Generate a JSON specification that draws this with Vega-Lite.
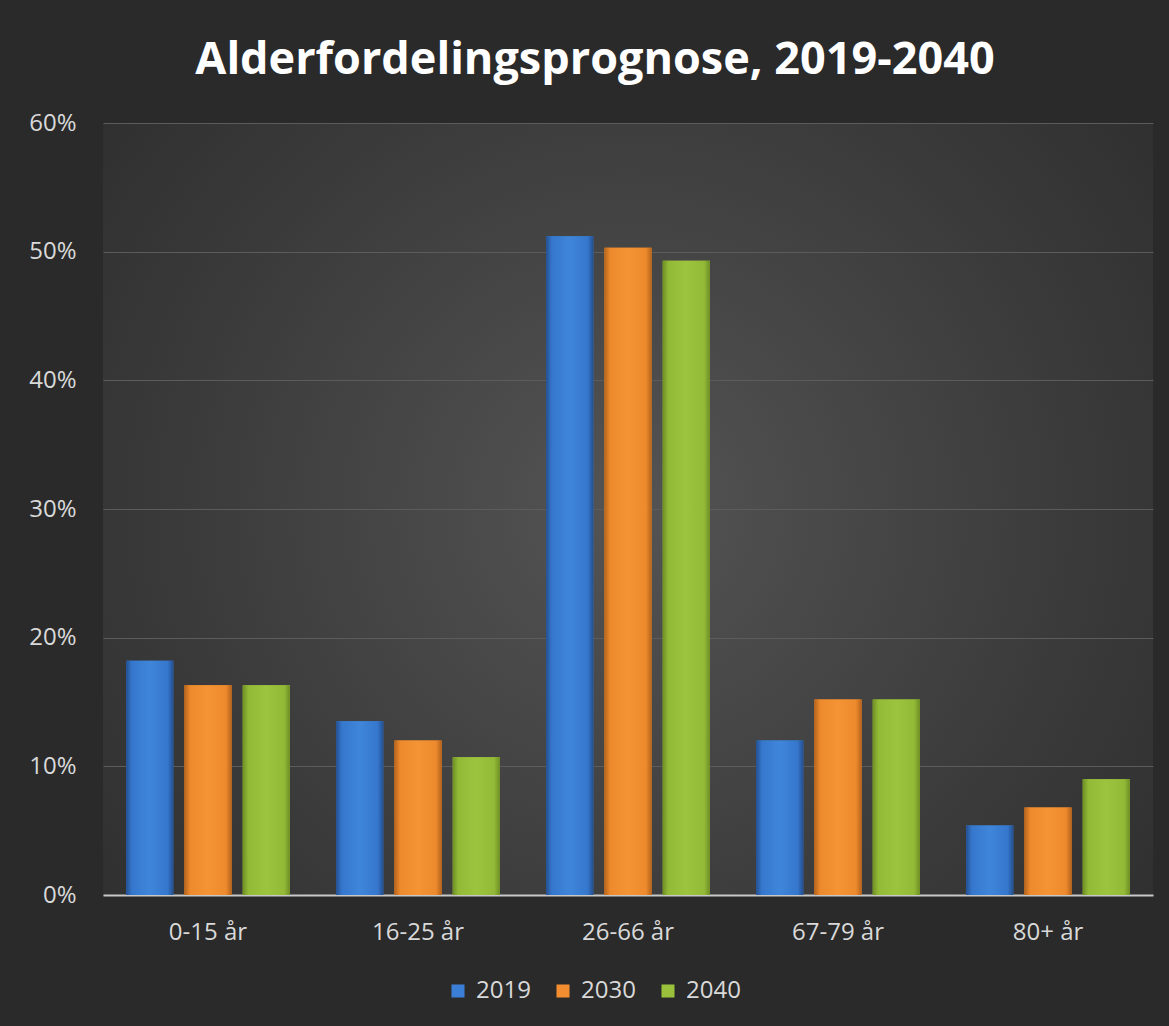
{
  "$schema": "https://vega.github.io/schema/vega-lite/v6.json",
  "width": 1050,
  "height": 772,
  "autosize": {"type": "none"},
  "padding": {"left": 103, "top": 123, "right": 16, "bottom": 131},
  "background": "#2a2a2a",
  "title": {
    "text": "Alderfordelingsprognose,  2019-2040",
    "anchor": "middle",
    "frame": "group",
    "dx": -33,
    "offset": 28,
    "fontSize": 45,
    "font": "Open Sans",
    "fontWeight": "bold",
    "color": "#ffffff"
  },
  "data": {
    "values": [
      {"age": "0-15 år", "year": "2019", "share": 0.182},
      {"age": "0-15 år", "year": "2030", "share": 0.163},
      {"age": "0-15 år", "year": "2040", "share": 0.163},
      {"age": "16-25 år", "year": "2019", "share": 0.135},
      {"age": "16-25 år", "year": "2030", "share": 0.120},
      {"age": "16-25 år", "year": "2040", "share": 0.107},
      {"age": "26-66 år", "year": "2019", "share": 0.512},
      {"age": "26-66 år", "year": "2030", "share": 0.503},
      {"age": "26-66 år", "year": "2040", "share": 0.493},
      {"age": "67-79 år", "year": "2019", "share": 0.120},
      {"age": "67-79 år", "year": "2030", "share": 0.152},
      {"age": "67-79 år", "year": "2040", "share": 0.152},
      {"age": "80+ år", "year": "2019", "share": 0.054},
      {"age": "80+ år", "year": "2030", "share": 0.068},
      {"age": "80+ år", "year": "2040", "share": 0.090}
    ]
  },
  "encoding": {
    "x": {
      "field": "age",
      "type": "nominal",
      "sort": null,
      "scale": {"paddingInner": 0.22, "paddingOuter": 0.11},
      "axis": {
        "title": null,
        "labelAngle": 0,
        "ticks": false,
        "domain": true,
        "domainColor": "#c8c8c8",
        "domainWidth": 2,
        "labelPadding": 25,
        "labelFontSize": 24,
        "labelFont": "Open Sans",
        "labelColor": "#d9d9d9",
        "grid": false
      }
    },
    "xOffset": {
      "field": "year",
      "type": "nominal",
      "scale": {"domain": ["2019", "2030", "2040"], "paddingInner": 0.19, "paddingOuter": 0}
    },
    "y": {
      "field": "share",
      "type": "quantitative",
      "scale": {"domain": [0, 0.6]},
      "axis": {
        "title": null,
        "values": [0, 0.1, 0.2, 0.3, 0.4, 0.5, 0.6],
        "format": ".0%",
        "domain": false,
        "ticks": false,
        "grid": true,
        "gridColor": "#5c5c5c",
        "gridWidth": 1,
        "labelPadding": 27,
        "labelFontSize": 24,
        "labelFont": "Open Sans",
        "labelColor": "#d9d9d9"
      }
    }
  },
  "layer": [
    {
      "mark": {"type": "bar"},
      "encoding": {
        "color": {
          "field": "year",
          "type": "nominal",
          "scale": {"domain": ["2019", "2030", "2040"], "range": ["#3a7fd5", "#f28e2f", "#99c13b"]},
          "legend": {
            "title": null,
            "orient": "none",
            "legendX": 343,
            "legendY": 856,
            "direction": "horizontal",
            "symbolType": "square",
            "symbolSize": 170,
            "symbolStrokeWidth": 0,
            "labelFontSize": 24,
            "labelFont": "Open Sans",
            "labelColor": "#d9d9d9",
            "labelOffset": 6,
            "columnPadding": 20
          }
        }
      }
    },
    {
      "transform": [{"filter": "datum.year == '2019'"}],
      "mark": {"type": "bar", "fill": {"gradient": "linear", "x1": 0, "y1": 0, "x2": 1, "y2": 0, "stops": [
        {"offset": 0, "color": "#244f8f"},
        {"offset": 0.12, "color": "#3577cc"},
        {"offset": 0.5, "color": "#3f86da"},
        {"offset": 0.88, "color": "#3577cc"},
        {"offset": 1, "color": "#244f8f"}
      ]}}
    },
    {
      "transform": [{"filter": "datum.year == '2030'"}],
      "mark": {"type": "bar", "fill": {"gradient": "linear", "x1": 0, "y1": 0, "x2": 1, "y2": 0, "stops": [
        {"offset": 0, "color": "#b5631b"},
        {"offset": 0.12, "color": "#ec8a2d"},
        {"offset": 0.5, "color": "#f59434"},
        {"offset": 0.88, "color": "#ec8a2d"},
        {"offset": 1, "color": "#b5631b"}
      ]}}
    },
    {
      "transform": [{"filter": "datum.year == '2040'"}],
      "mark": {"type": "bar", "fill": {"gradient": "linear", "x1": 0, "y1": 0, "x2": 1, "y2": 0, "stops": [
        {"offset": 0, "color": "#6d8e24"},
        {"offset": 0.12, "color": "#93ba37"},
        {"offset": 0.5, "color": "#9dc43e"},
        {"offset": 0.88, "color": "#93ba37"},
        {"offset": 1, "color": "#6d8e24"}
      ]}}
    }
  ],
  "config": {
    "view": {
      "stroke": null,
      "fill": {
        "gradient": "radial",
        "x1": 0.5, "y1": 0.5, "r1": 0,
        "x2": 0.5, "y2": 0.5, "r2": 0.72,
        "stops": [
          {"offset": 0, "color": "#545454"},
          {"offset": 0.6, "color": "#3a3a3a"},
          {"offset": 1, "color": "#2b2b2b"}
        ]
      }
    }
  }
}
